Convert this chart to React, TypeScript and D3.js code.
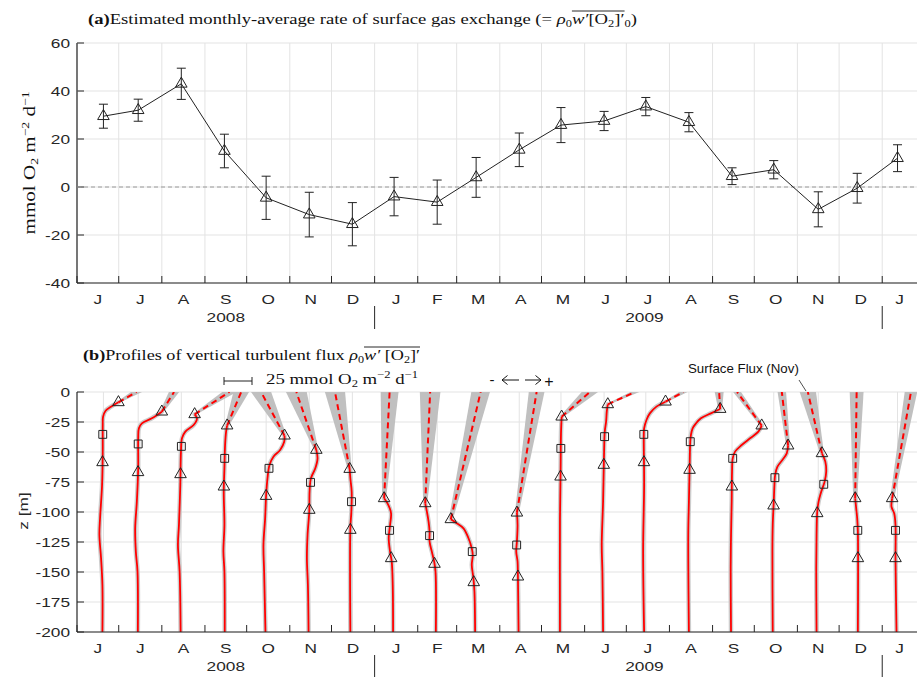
import * as d3 from "d3";
import { useLayoutEffect, useRef, useState } from "react";

// month labels along both time axes (Jun 2008 .. Jan 2010)
const monthLabels = ["J", "J", "A", "S", "O", "N", "D", "J", "F", "M", "A", "M", "J", "J", "A", "S", "O", "N", "D", "J"];
// centre date of each monthly average
const obsDates = [
  "2008-06-20", "2008-07-15", "2008-08-15", "2008-09-15", "2008-10-15", "2008-11-15", "2008-12-16",
  "2009-01-15", "2009-02-15", "2009-03-15", "2009-04-15", "2009-05-15", "2009-06-15", "2009-07-15",
  "2009-08-15", "2009-09-15", "2009-10-15", "2009-11-16", "2009-12-14", "2010-01-12",
];
// (a) surface gas exchange, mmol O2 m-2 d-1
const surfaceFlux = [29.5, 32, 43, 15, -4.5, -11.5, -15.5, -4, -6.3, 4, 15.5, 25.8, 27.5, 33.5, 27, 4.5, 7.2, -9.3, -0.5, 12];
const surfaceErr = [5, 4.6, 6.5, 7, 9, 9.3, 9, 8, 9.2, 8.3, 7, 7.3, 4, 3.8, 4, 3.5, 3.8, 7.3, 6.2, 5.6];

const yearLabels = ["2008", "2009"];
const yearDates = ["2008-09-16", "2009-07-14"];
const yearBreaks = ["2009-01-01", "2010-01-01"];

const fluxTicks = [60, 40, 20, 0, -20, -40];
const depthTicks = [0, -25, -50, -75, -100, -125, -150, -175, -200];

// (b) flux profiles below the mixed layer: [depth m, flux], first point = upper triangle
const pJun08 = [[-8.6, 13.4], [-12.2, 6.8], [-15.8, 1.8], [-20.6, -0.3], [-27.5, -0.6], [-49.7, -0.6], [-77.5, -1.2], [-105, -3], [-119, -3.6], [-138.6, -2.1], [-160.8, -0.9], [-200, -0.9]];
const pJul08 = [[-16.4, 21.1], [-21.9, 12.2], [-26.1, 3.3], [-30.3, 0.6], [-38.6, 0], [-63.6, 0], [-91.4, -1.2], [-113.6, -2.7], [-133, -2.1], [-149.7, -0.6], [-200, -0.3]];
const pAug08 = [[-18.6, 11.9], [-21.9, 14], [-27.5, 11], [-33, 3.6], [-38.6, 0.6], [-49.7, -0.3], [-77.5, -0.9], [-110.8, -2.1], [-127.5, -3], [-149.7, -1.5], [-200, -0.6]];
const pSep08 = [[-28, 2.4], [-33, 1.5], [-44, 0.6], [-63.6, 0], [-83, -0.6], [-110.8, 0], [-133, -0.9], [-149.7, 0], [-200, 0.3]];
const pOct08 = [[-36.4, 16.4], [-41.4, 16.1], [-48.3, 12.5], [-53.9, 6.5], [-60.8, 3], [-71.9, 1.2], [-85.8, 0], [-105.3, -0.9], [-127.5, -2.4], [-149.7, -1.8], [-200, -0.6]];
const pNov08 = [[-48.3, 6.3], [-55.3, 7.4], [-63.6, 5.4], [-71.9, 1.5], [-83, 0.3], [-99.7, 0], [-119, -1.5], [-138.6, -2.1], [-160.8, -1.2], [-200, -0.6]];
const pDec08 = [[-64.2, -2.4], [-71.9, -1.8], [-83, -0.6], [-99.7, -0.9], [-113.6, -1.8], [-200, -1.8]];
const pJan09 = [[-88.6, -8.9], [-94.2, -5.1], [-101.1, -2.7], [-110.8, -3.6], [-121.9, -4.8], [-133, -3.6], [-141.4, -2.1], [-160.8, -1.2], [-200, -0.9]];
const pFeb09 = [[-92.8, -10.7], [-99.7, -9.2], [-108, -7.7], [-116.4, -6.8], [-124.7, -6.8], [-133, -4.8], [-141.4, -2.7], [-149.7, -1.5], [-200, -1.2]];
const pMar09 = [[-106.1, -22.6], [-109.4, -17.3], [-113.6, -11.3], [-121.9, -6.8], [-130.3, -3.9], [-135.8, -3], [-144.2, -3.9], [-155.3, -2.4], [-166.4, -1.5], [-200, -0.9]];
const pApr09 = [[-100.6, -2.1], [-110.8, -1.5], [-124.7, -2.1], [-133, -2.7], [-141.4, -1.5], [-152.5, -1.2], [-200, -0.6]];
const pMay09 = [[-20.6, 0.6], [-35, 0], [-63.6, -0.3], [-105.3, -0.9], [-200, -0.9]];
const pJun09 = [[-10.3, 3.3], [-16.4, 2.4], [-24.7, 1.8], [-33, 0.6], [-49.7, 0], [-91.4, -0.9], [-127.5, -2.1], [-149.7, -1.5], [-200, -0.9]];
const pJul09 = [[-8.1, 17.6], [-12.2, 9.5], [-17.8, 3.6], [-23.3, 0.6], [-30.3, -1.5], [-35.8, -1.8], [-77.5, -1.5], [-133, -2.4], [-200, -1.5]];
const pAug09 = [[-14.2, 27.9], [-17.8, 19.6], [-21.9, 10.7], [-26.1, 6.3], [-30.3, 3.3], [-35.8, 1.8], [-41.4, 1.2], [-63.6, 0.6], [-91.4, 0], [-119, -0.6], [-200, 0]];
const pSep09 = [[-28, 26.5], [-33, 23.5], [-38.6, 16.1], [-44.2, 8.6], [-49.7, 2.7], [-55.3, 0.6], [-66.4, 0], [-91.4, -0.3], [-119.2, -0.9], [-146.9, -1.2], [-200, -0.9]];
const pOct09 = [[-44.7, 12.8], [-51.1, 11.6], [-56.7, 7.7], [-62.2, 3.3], [-69.2, 1.2], [-77.5, 0.6], [-91.4, 0], [-110.8, -0.9], [-133, -1.2], [-200, -0.9]];
const pNov09 = [[-51.1, 3.3], [-58, 6.3], [-66.4, 7.1], [-74.7, 5.7], [-83, 2.7], [-91.4, 0.3], [-99.7, -0.9], [-119.2, -1.5], [-146.9, -1.8], [-200, -1.5]];
const pDec09 = [[-88.6, -1.8], [-97, -0.9], [-105.3, 0], [-116.4, 0.6], [-200, 0.6]];
const pJan10 = [[-88.6, -4.8], [-95.6, -5.4], [-101.1, -3], [-110.8, -1.8], [-138.6, -1.8], [-200, -0.9]];

const profiles = [pJun08, pJul08, pAug08, pSep08, pOct08, pNov08, pDec08, pJan09, pFeb09, pMar09,
  pApr09, pMay09, pJun09, pJul09, pAug09, pSep09, pOct09, pNov09, pDec09, pJan10];
const squareDepth = [-35.3, -43.3, -45.3, -55.3, -63.6, -75.3, -91.4, -115.3, -119.7, -133, -127.5, -47, -37.2, -35.3, -41.4, -55.3, -71.4, -76.9, -115.3, -115.3];
const lowerDepth = [-58.6, -66.9, -68.6, -78.9, -86.7, -98.3, -115, -138.6, -143.3, -158.6, -153.9, -70.6, -60.8, -58.6, -65, -78.9, -94.7, -101.1, -138.6, -138.6];

const axisColor = "#262626";
const gridColor = "#e3e3e3";
const sans = "'Liberation Sans', Arial, sans-serif";
const serif = "'Liberation Serif', 'DejaVu Serif', serif";

const parse = d3.timeParse("%Y-%m-%d");

// flux at a given depth along a profile (for placing the markers on the curve)
const fluxAt = (pts: number[][], z: number) => {
  for (let k = 0; k < pts.length - 1; k++) {
    const [z1, f1] = pts[k];
    const [z2, f2] = pts[k + 1];
    if (z <= z1 && z >= z2) return f1 + ((z - z1) / (z2 - z1)) * (f2 - f1);
  }
  return pts[pts.length - 1][1];
};

const Lbl = ({ x, y, children, anchor = "middle", rot = false, size = 13.5 }: any) => (
  <text
    transform={`translate(${x},${y})${rot ? " rotate(-90)" : ""} scale(1.28,1)`}
    textAnchor={anchor}
    dominantBaseline="central"
    fontFamily={sans}
    fontSize={size}
    fill={axisColor}
  >
    {children}
  </text>
);

export default function App() {
  const aStart = useRef<SVGTSpanElement>(null);
  const aEnd = useRef<SVGTSpanElement>(null);
  const bStart = useRef<SVGTSpanElement>(null);
  const bEnd = useRef<SVGTSpanElement>(null);
  const [bars, setBars] = useState<number[][]>([]);

  useLayoutEffect(() => {
    // overline above w'[O2]' : measured from the rendered tspans
    try {
      const seg = (s: any, e: any) => {
        const b1 = s.getBBox();
        const b2 = e.getBBox();
        return [b1.x, b2.x + b2.width, b1.y];
      };
      setBars([seg(aStart.current, aEnd.current), seg(bStart.current, bEnd.current)]);
    } catch (err) {
      setBars([]);
    }
  }, []);

  const x = d3.scaleTime().domain([new Date(2008, 5, 1), new Date(2010, 0, 26)]).range([77, 917]);
  const yTop = d3.scaleLinear().domain([-40, 60]).range([283, 43]);
  const zy = d3.scaleLinear().domain([-200, 0]).range([632, 392]);
  const fx = d3.scaleLinear().domain([0, 25]).range([0, 28]);

  const monthTicks = d3.timeMonth.range(new Date(2008, 5, 1), new Date(2010, 0, 2));
  const bounds = [...monthTicks.map((d) => x(d)), x.range()[1]];
  const labelX = monthLabels.map((_, i) => (bounds[i] + bounds[i + 1]) / 2);
  const obsX = obsDates.map((d) => x(parse(d)!));

  const tri = d3.symbol().type(d3.symbolTriangle).size(58)()!;
  const sq = d3.symbol().type(d3.symbolSquare).size(62)()!;

  const topLine = d3
    .line<number>()
    .x((_, i) => obsX[i])
    .y((v) => yTop(v))(surfaceFlux)!;

  const profLine = (pts: number[][], x0: number) =>
    d3
      .line<number[]>()
      .x((d) => x0 + fx(d[1]))
      .y((d) => zy(d[0]))
      .curve(d3.curveCatmullRom.alpha(0.5))(pts)!;

  const timeAxis = (y0: number, gridTop: number, showGrid: boolean) => (
    <g>
      {monthTicks.map((d, i) => (
        <g key={i}>
          {showGrid && <line x1={x(d)} x2={x(d)} y1={gridTop} y2={y0} stroke={gridColor} />}
          <line x1={x(d)} x2={x(d)} y1={y0} y2={y0 - 7} stroke={axisColor} />
        </g>
      ))}
      <line x1={77} x2={917} y1={y0} y2={y0} stroke={axisColor} strokeWidth={1.2} />
      {monthLabels.map((m, i) => (
        <Lbl key={i} x={labelX[i]} y={y0 + 16}>{m}</Lbl>
      ))}
      {yearLabels.map((t, i) => (
        <Lbl key={t} x={x(parse(yearDates[i])!)} y={y0 + 34}>{t}</Lbl>
      ))}
      {yearBreaks.map((d) => (
        <line key={d} x1={x(parse(d)!)} x2={x(parse(d)!)} y1={y0 + 23} y2={y0 + 46} stroke={axisColor} />
      ))}
    </g>
  );

  return (
    <svg width={917} height={677} style={{ position: "absolute", left: 0, top: 0, background: "#fff" }}>
      <defs>
        <clipPath id="clipB">
          <rect x={77} y={392} width={840} height={240} />
        </clipPath>
      </defs>

      {/* ---------- (a) ---------- */}
      <text x={88} y={24} fontFamily={serif} fontSize={15} textLength={549} lengthAdjust="spacingAndGlyphs" fill="#111">
        <tspan fontWeight="bold">(a)</tspan>Estimated monthly-average rate of surface gas exchange (= <tspan fontStyle="italic">ρ</tspan>
        <tspan dy={3} fontSize={10}>0</tspan>
        <tspan ref={aStart} dy={-3} fontStyle="italic">w′</tspan>
        <tspan>[O</tspan>
        <tspan dy={3} fontSize={10}>2</tspan>
        <tspan ref={aEnd} dy={-3}>]′</tspan>
        <tspan dy={3} fontSize={10}>0</tspan>
        <tspan dy={-3}>)</tspan>
      </text>

      {fluxTicks.map((t) => (
        <g key={t}>
          <line x1={77} x2={917} y1={yTop(t)} y2={yTop(t)} stroke={gridColor} />
          <line x1={77} x2={84} y1={yTop(t)} y2={yTop(t)} stroke={axisColor} />
          <Lbl x={70} y={yTop(t)} anchor="end">{t}</Lbl>
        </g>
      ))}
      {timeAxis(283, 43, true)}
      <line x1={77} x2={77} y1={43} y2={283} stroke={axisColor} strokeWidth={1.2} />
      <line x1={77} x2={917} y1={yTop(0)} y2={yTop(0)} stroke="#9a9a9a" strokeDasharray="4,3" />

      <text
        transform={`translate(35,163) rotate(-90)`}
        textAnchor="middle"
        fontFamily={serif}
        fontSize={17}
        fill="#111"
        textLength={143}
        lengthAdjust="spacingAndGlyphs"
      >
        mmol O<tspan dy={3} fontSize={11}>2</tspan>
        <tspan dy={-3}> m</tspan>
        <tspan dy={-6} fontSize={11}>−2</tspan>
        <tspan dy={6}> d</tspan>
        <tspan dy={-6} fontSize={11}>−1</tspan>
      </text>

      <path d={topLine} fill="none" stroke="#222" strokeWidth={1} />
      {surfaceFlux.map((v, i) => (
        <g key={i} stroke="#222" fill="none">
          <line x1={obsX[i]} x2={obsX[i]} y1={yTop(v - surfaceErr[i])} y2={yTop(v + surfaceErr[i])} />
          <line x1={obsX[i] - 4.5} x2={obsX[i] + 4.5} y1={yTop(v + surfaceErr[i])} y2={yTop(v + surfaceErr[i])} />
          <line x1={obsX[i] - 4.5} x2={obsX[i] + 4.5} y1={yTop(v - surfaceErr[i])} y2={yTop(v - surfaceErr[i])} />
          <path d={tri} transform={`translate(${obsX[i]},${yTop(v)})`} />
        </g>
      ))}

      {/* ---------- (b) ---------- */}
      <text x={83} y={360} fontFamily={serif} fontSize={15} textLength={337} lengthAdjust="spacingAndGlyphs" fill="#111">
        <tspan fontWeight="bold">(b)</tspan>Profiles of vertical turbulent flux <tspan fontStyle="italic">ρ</tspan>
        <tspan dy={3} fontSize={10}>0</tspan>
        <tspan ref={bStart} dy={-3} fontStyle="italic">w′</tspan>
        <tspan> [O</tspan>
        <tspan dy={3} fontSize={10}>2</tspan>
        <tspan ref={bEnd} dy={-3}>]′</tspan>
      </text>
      {bars.map((b, i) => (
        <line key={i} x1={b[0]} x2={b[1]} y1={b[2]} y2={b[2]} stroke="#111" strokeWidth={0.9} />
      ))}

      <g stroke="#222">
        <line x1={224} x2={224 + fx(25)} y1={381} y2={381} />
        <line x1={224} x2={224} y1={377} y2={385} />
        <line x1={224 + fx(25)} x2={224 + fx(25)} y1={377} y2={385} />
      </g>
      <text x={266} y={384} fontFamily={serif} fontSize={15} textLength={152} lengthAdjust="spacingAndGlyphs" fill="#111">
        25 mmol O<tspan dy={3} fontSize={10}>2</tspan>
        <tspan dy={-3}> m</tspan>
        <tspan dy={-6} fontSize={10}>−2</tspan>
        <tspan dy={6}> d</tspan>
        <tspan dy={-6} fontSize={10}>−1</tspan>
      </text>

      {/* direction hint: negative / positive flux */}
      <g fontFamily={sans} fill="#111" textAnchor="middle">
        <text x={492} y={385} fontSize={15}>-</text>
        <text x={549} y={387} fontSize={16}>+</text>
      </g>
      <g stroke="#111" strokeWidth={1} fill="none">
        <path d="M519,380H502M507.5,375.5L502,380L507.5,384.5" />
        <path d="M525,380H541M535.5,375.5L541,380L535.5,384.5" />
      </g>

      <text x={688} y={373} fontFamily={sans} fontSize={13.3} fill="#111">Surface Flux (Nov)</text>
      <line x1={799} y1={380} x2={806} y2={391} stroke="#222" strokeWidth={0.8} />

      {depthTicks.map((t) => (
        <g key={t}>
          <line x1={77} x2={917} y1={zy(t)} y2={zy(t)} stroke={gridColor} />
          <line x1={77} x2={84} y1={zy(t)} y2={zy(t)} stroke={axisColor} />
          <Lbl x={70} y={zy(t)} anchor="end">{t}</Lbl>
        </g>
      ))}
      {obsX.map((xx, i) => (
        <line key={i} x1={xx} x2={xx} y1={392} y2={632} stroke={gridColor} />
      ))}
      <Lbl x={23} y={511} rot>z [m]</Lbl>

      <g clipPath="url(#clipB)">
        {profiles.map((pts, i) => {
          const x0 = obsX[i];
          const px = (f: number) => x0 + fx(f);
          const [zt, ft] = pts[0];
          const s = surfaceFlux[i];
          const e = surfaceErr[i];
          const wedge = [
            [px(ft) - 2, zy(zt)],
            [px(s - e), zy(0)],
            [px(s + e), zy(0)],
            [px(ft) + 2, zy(zt)],
          ];
          return (
            <g key={i}>
              <path d={"M" + wedge.join("L") + "Z"} fill="#c0c0c0" />
              <path d={profLine(pts, x0)} fill="none" stroke="#cdcdcd" strokeWidth={4.5} strokeLinecap="round" />
            </g>
          );
        })}
        {profiles.map((pts, i) => {
          const x0 = obsX[i];
          const px = (f: number) => x0 + fx(f);
          const [zt, ft] = pts[0];
          return (
            <g key={i}>
              <line x1={px(ft)} y1={zy(zt)} x2={px(surfaceFlux[i])} y2={zy(0)} stroke="#ff0000" strokeWidth={2} strokeDasharray="6,4" />
              <path d={profLine(pts, x0)} fill="none" stroke="#ff0000" strokeWidth={1.8} />
            </g>
          );
        })}
      </g>
      {profiles.map((pts, i) => {
        const x0 = obsX[i];
        const px = (f: number) => x0 + fx(f);
        const [zt, ft] = pts[0];
        return (
          <g key={i} stroke="#222" fill="none" strokeWidth={1}>
            <path d={tri} transform={`translate(${px(ft)},${zy(zt)})`} />
            <path d={sq} transform={`translate(${px(fluxAt(pts, squareDepth[i]))},${zy(squareDepth[i])})`} />
            <path d={tri} transform={`translate(${px(fluxAt(pts, lowerDepth[i]))},${zy(lowerDepth[i])})`} />
          </g>
        );
      })}

      {timeAxis(632, 392, false)}
      <line x1={77} x2={77} y1={392} y2={632} stroke={axisColor} strokeWidth={1.2} />
    </svg>
  );
}
